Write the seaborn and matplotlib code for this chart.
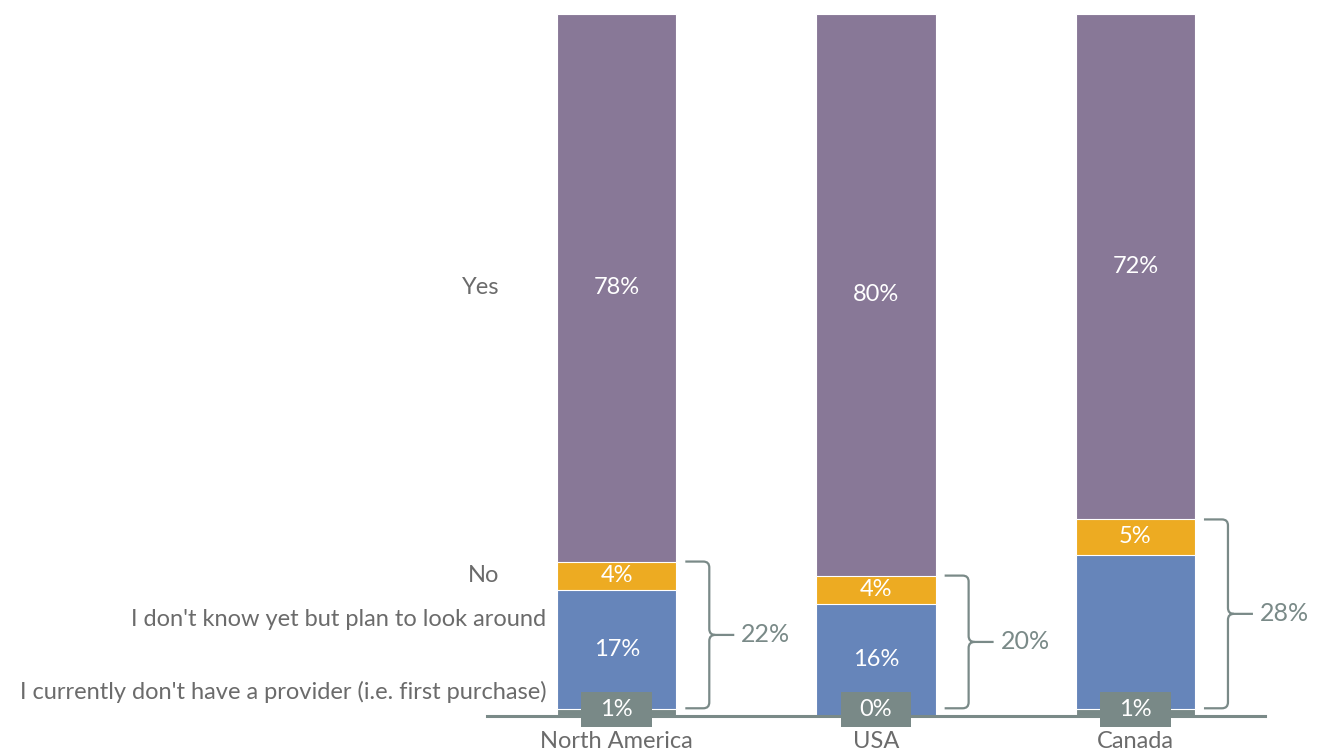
import numpy as np
import pandas as pd
import matplotlib
matplotlib.use("Agg")
import matplotlib.pyplot as plt
from matplotlib.path import Path
from matplotlib.patches import PathPatch, Rectangle
import seaborn as sns

# Survey shares (%) per region, stacked from the bottom up
regions = ["North America", "USA", "Canada"]
first_purchase = [1, 0, 1]
plan_to_look = [17, 16, 22]
no_vals = [4, 4, 5]
yes_vals = [78, 80, 72]
series_names = [
    "I currently don't have a provider (i.e. first purchase)",
    "I don't know yet but plan to look around",
    "No",
    "Yes",
]
show_plan_label = [True, True, False]

sns.set_theme(style="white")
plt.rcParams["font.family"] = ["Lato", "DejaVu Sans"]

PURPLE = "#887897"
ORANGE = "#EDAB22"
BLUE = "#6685BA"
GREY = "#798987"
TEXT = "#6b6b6b"
ACCENT = "#7a8a88"
FS = 17

df = pd.DataFrame({
    "region": regions,
    "first": first_purchase,
    "plan": plan_to_look,
    "no": no_vals,
    "yes": yes_vals,
})
df["top_first"] = df["first"]
df["top_plan"] = df["top_first"] + df["plan"]
df["top_no"] = df["top_plan"] + df["no"]
df["top_yes"] = df["top_no"] + df["yes"]

fig = plt.figure(figsize=(13.17, 7.54), dpi=100)
ax = fig.add_axes([487 / 1317, 1 - 716 / 754, (1265 - 487) / 1317, (716 - 14) / 754])

W = 0.46
for col, c in [("top_yes", PURPLE), ("top_no", ORANGE),
               ("top_plan", BLUE), ("top_first", GREY)]:
    sns.barplot(data=df, x="region", y=col, order=regions, color=c,
                width=W, saturation=1, errorbar=None,
                edgecolor="white", linewidth=0.8, ax=ax)

ax.set_xlim(-0.5, 2.5)
ax.set_ylim(0, 100)
ax.set_xlabel("")
ax.set_ylabel("")
ax.set_yticks([])
for s in ["left", "top", "right"]:
    ax.spines[s].set_visible(False)
ax.spines["bottom"].set_color(ACCENT)
ax.spines["bottom"].set_linewidth(2.2)
ax.spines["bottom"].set_zorder(3)
ax.set_xticks(range(len(regions)))
ax.set_xticklabels(regions)
ax.tick_params(axis="x", length=0, pad=11, labelsize=FS, labelcolor=TEXT)

# pixel -> data unit conversion for decorative shapes
PX_X = 1 / 259.5
PX_Y = 100 / 702

for i, row in df.iterrows():
    # segment value labels
    ax.text(i, row["top_no"] + row["yes"] / 2, f"{row['yes']}%", ha="center",
            va="center", color="white", fontsize=FS)
    ax.text(i, row["top_plan"] + row["no"] / 2, f"{row['no']}%", ha="center",
            va="center", color="white", fontsize=FS)
    if show_plan_label[i]:
        ax.text(i, row["top_first"] + row["plan"] / 2, f"{row['plan']}%",
                ha="center", va="center", color="white", fontsize=FS)

    # boxed label for the thin bottom segment
    bw, bh = 71 * PX_X, 35 * PX_Y
    yc = 0.9
    ax.add_patch(Rectangle((i - bw / 2, yc - bh / 2), bw, bh, facecolor=GREY,
                           edgecolor="none", zorder=5, clip_on=False))
    ax.text(i, yc, f"{row['first']}%", ha="center", va="center",
            color="white", fontsize=FS, zorder=6, clip_on=False)

    # curly bracket grouping the non-"Yes" answers
    y_top = row["top_no"]
    y_bot = 1.1
    y_mid = (y_top + y_bot) / 2
    x0 = i + W / 2 + 9 * PX_X
    xv = x0 + 24 * PX_X
    xt = xv + 25 * PX_X
    rx, ry = 6 * PX_X, 6 * PX_Y
    verts = [
        (x0, y_top), (xv - rx, y_top), (xv, y_top), (xv, y_top - ry),
        (xv, y_mid + ry), (xv, y_mid), (xv + rx, y_mid), (xt, y_mid),
        (xv + rx, y_mid), (xv, y_mid), (xv, y_mid - ry),
        (xv, y_bot + ry), (xv, y_bot), (xv - rx, y_bot), (x0, y_bot),
    ]
    codes = [
        Path.MOVETO, Path.LINETO, Path.CURVE3, Path.CURVE3,
        Path.LINETO, Path.CURVE3, Path.CURVE3, Path.LINETO,
        Path.MOVETO, Path.CURVE3, Path.CURVE3,
        Path.LINETO, Path.CURVE3, Path.CURVE3, Path.LINETO,
    ]
    ax.add_patch(PathPatch(Path(verts, codes), facecolor="none",
                           edgecolor=ACCENT, linewidth=1.6, clip_on=False))
    total = row["first"] + row["plan"] + row["no"]
    ax.text(xt + 7 * PX_X, y_mid, f"{total}%", ha="left", va="center",
            color=ACCENT, fontsize=FS + 1, clip_on=False)

# series names beside the first bar
r0 = df.iloc[0]
label_pos = [(-0.272, 3.4), (-0.272, 13.8),
             (-0.453, r0["top_plan"] + r0["no"] / 2),
             (-0.453, r0["top_no"] + r0["yes"] / 2)]
for name, (lx, ly) in zip(series_names, label_pos):
    ax.text(lx, ly, name, ha="right", va="center", color=TEXT,
            fontsize=FS, clip_on=False)

fig.savefig("out.png", dpi=100, facecolor="white")
